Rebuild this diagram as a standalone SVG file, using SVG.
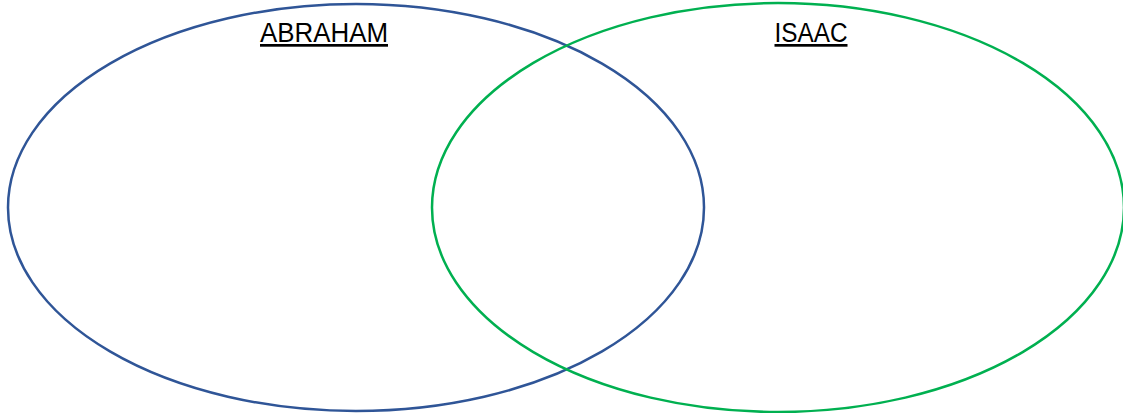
<svg xmlns="http://www.w3.org/2000/svg" width="1123" height="413" viewBox="0 0 1123 413">
<style>
.lbl{font-family:"Liberation Sans",Arial,sans-serif;font-size:27px;fill:#000;text-decoration:underline;text-anchor:middle}
.c{fill:none;stroke-width:2.5}
</style>
<rect width="1123" height="413" fill="#fff"/>
<g id="abraham">
<ellipse class="c" cx="356" cy="207.5" rx="348" ry="203.5" stroke="#2F5597"/>
<text class="lbl" x="324" y="42" textLength="128" lengthAdjust="spacingAndGlyphs">ABRAHAM</text>
</g>
<g id="isaac">
<ellipse class="c" cx="778" cy="207.5" rx="346" ry="204.5" stroke="#00B050"/>
<text class="lbl" x="811" y="42" textLength="73" lengthAdjust="spacingAndGlyphs">ISAAC</text>
</g>
<g id="connectors"/>
</svg>
